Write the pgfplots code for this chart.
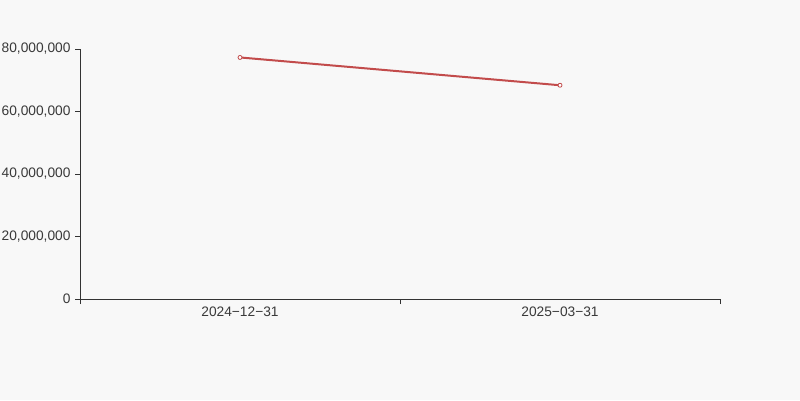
\documentclass[border=0pt]{standalone}
\usepackage{pgfplots}
\pgfplotsset{compat=1.18}
\usepackage{fontspec}
\setmainfont{Liberation Sans}
\definecolor{bg}{HTML}{F8F8F8}
\definecolor{ax}{HTML}{333333}
\definecolor{txt}{HTML}{3A3A3A}
\definecolor{ln}{HTML}{C24B4B}
\begin{document}
\begin{tikzpicture}[x=1bp,y=1bp]
\fill[bg] (0,0) rectangle (800,400);
\useasboundingbox (0,0) rectangle (800,400);
\begin{axis}[
  at={(80bp,101bp)}, anchor=south west,
  scale only axis, width=640bp, height=250bp,
  xmin=0, xmax=2, ymin=0, ymax=80000000,
  axis x line*=bottom, axis y line*=left,
  axis line style={ax, line width=0.8pt},
  xtick={0,1,2}, xticklabels={},
  extra x ticks={0.5,1.5},
  extra x tick labels={2024{\char"2212}12{\char"2212}31, 2025{\char"2212}03{\char"2212}31},
  extra x tick style={major tick length=0pt, xticklabel style={yshift=-4bp}},
  major tick length=5bp,
  tick align=outside,
  tick style={ax, line width=0.8pt},
  ytick={0,20000000,40000000,60000000,80000000},
  scaled y ticks=false,
  /pgf/number format/fixed,
  /pgf/number format/1000 sep={,},
  /pgf/number format/assume math mode=true,
  tick label style={font=\fontsize{13.8}{15}\selectfont, text=txt},
  yticklabel style={xshift=-1bp},
  clip=false,
]
\addplot[ln, line width=2bp, mark=*, mark size=2bp, mark options={fill=white, draw=ln, line width=0.8pt}]
  coordinates {(0.5,77300000) (1.5,68400000)};
\end{axis}
\end{tikzpicture}
\end{document}
